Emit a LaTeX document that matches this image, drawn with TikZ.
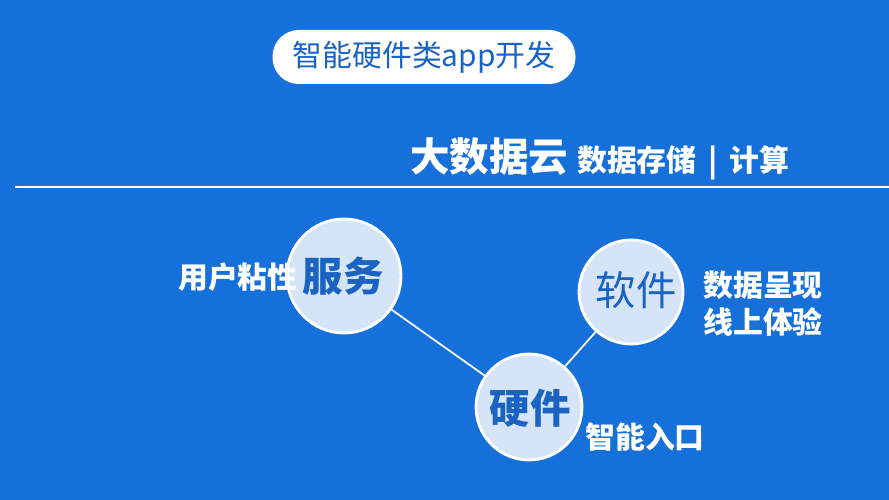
\documentclass[tikz,border=0pt]{standalone}
\usepackage{fontspec}
\setmainfont{Noto Sans CJK SC}
\usepackage{xcolor}
\usetikzlibrary{positioning}
\definecolor{appblue}{HTML}{1570DA}
\definecolor{appdark}{HTML}{1A63C2}
\definecolor{applight}{HTML}{D5E5F7}

\tikzset{
  ring/.style={circle, draw=white, line width=1.6pt, fill=applight, inner sep=0pt},
  hub/.style={font=\fontsize{23}{25}\selectfont\bfseries, text=appdark},
  note/.style={font=\fontsize{17}{21}\selectfont\bfseries, text=white, inner sep=0pt, align=left},
  link/.style={draw=white, line width=1pt}
}

\begin{document}
\begin{tikzpicture}[x=0.02cm, y=-0.02cm]
  % background
  \fill[appblue] (0,0) rectangle (889,500);
  \useasboundingbox (0,0) rectangle (889,500);
  % title pill
  \node[fill=white, rounded corners=15pt, minimum width=303*0.02cm, minimum height=54*0.02cm,
        text=appdark, font=\fontsize{17}{20}\selectfont] (title) at (424,57) {智能硬件类app开发};
  % headline
  \node[font=\fontsize{22.5}{24}\selectfont\bfseries, text=white, inner sep=0pt, anchor=base west] (cloud) at (410,172) {大数据云};
  \node[note, right=8*0.02cm of cloud.base east, anchor=base west] (store) {数据存储 \,|\, 计算};
  \coordinate (ruleL) at (15,187);
  \coordinate (ruleR) at (889,187);
  \draw[white, line width=1.2pt] (ruleL) -- (ruleR);
  % circles
  \node[ring, minimum size=114*0.02cm] (serve) at (344,276) {};
  \node[ring, minimum size=104*0.02cm] (soft) at (631,292) {};
  \node[ring, minimum size=106*0.02cm] (hard) at (529,407) {};
  \draw[link] (serve) -- (hard);
  \draw[link] (hard) -- (soft);
  % circle texts
  \node[hub] at (343,276) {服务};
  \node[hub, font=\fontsize{23}{25}\selectfont] at (636,290) {软件};
  \node[hub] at (530,408) {硬件};
  % side notes
  \node[note, anchor=east] (sticky) at (298,277) {用户粘性};
  \node[note, anchor=west] (show) at (703,304) {数据呈现\\线上体验};
  \node[note, anchor=west] (entry) at (585,437) {智能入口};
\end{tikzpicture}
\end{document}
